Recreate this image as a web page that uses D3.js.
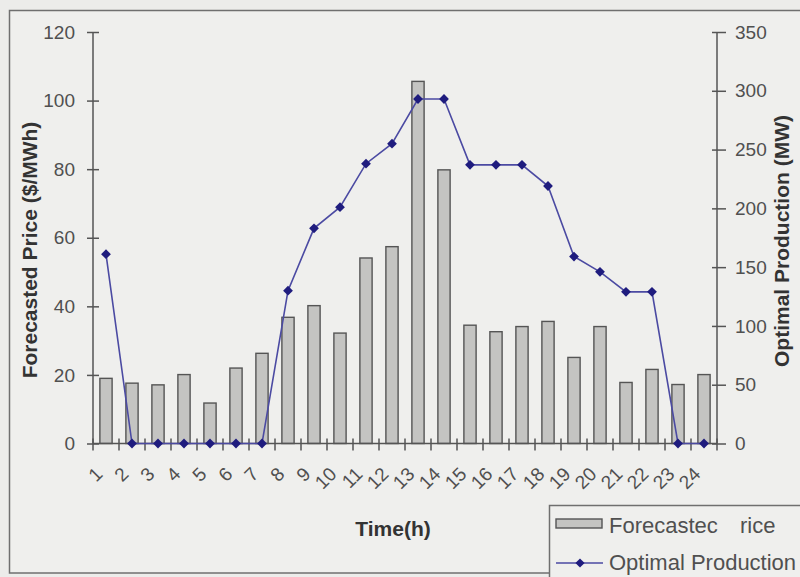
<!DOCTYPE html>
<html>
<head>
<meta charset="utf-8">
<script src="https://cdn.jsdelivr.net/npm/d3@7"></script>
<style>
  html, body { margin: 0; padding: 0; background: #ececea; }
  svg { display: block; }
  text { font-family: "Liberation Sans", Arial, sans-serif; }
</style>
</head>
<body>
<svg id="chart" width="800" height="577"></svg>
<script>
// Hourly forecasted price ($/MWh) and optimal production (MW)
const hours = [1, 2, 3, 4, 5, 6, 7, 8, 9, 10, 11, 12, 13, 14, 15, 16, 17, 18, 19, 20, 21, 22, 23, 24];
const forecastPrice = [19.0, 17.6, 17.1, 20.1, 11.8, 22.0, 26.3, 36.8, 40.2, 32.2, 54.1, 57.4, 105.6, 79.8, 34.5, 32.6, 34.1, 35.6, 25.1, 34.1, 17.8, 21.6, 17.2, 20.1];
const optimalProduction = [161, 0, 0, 0, 0, 0, 0, 130, 183, 201, 238, 255, 293, 293, 237, 237, 237, 219, 159, 146, 129, 129, 0, 0];
const priceTicks = [0, 20, 40, 60, 80, 100, 120];
const productionTicks = [0, 50, 100, 150, 200, 250, 300, 350];

const svg = d3.select("#chart");

// Outer chart frame
svg.append("rect")
  .attr("x", 9.5).attr("y", 10.5)
  .attr("width", 800).attr("height", 562.5)
  .attr("fill", "#efefed").attr("stroke", "#6f6f6f").attr("stroke-width", 1.5);

const plotLeft = 93, plotRight = 717, plotTop = 32, plotBottom = 443.5;

const x = d3.scaleBand().domain(hours).range([plotLeft, plotRight]).paddingInner(0).paddingOuter(0);
const yPrice = d3.scaleLinear().domain([0, 120]).range([plotBottom, plotTop]);
const yProd = d3.scaleLinear().domain([0, 350]).range([plotBottom, plotTop]);

const barW = x.bandwidth() * 0.47;

// Price bars
svg.append("g").selectAll("rect")
  .data(hours)
  .join("rect")
  .attr("x", (h) => x(h) + x.bandwidth() / 2 - barW / 2)
  .attr("y", (h, i) => yPrice(forecastPrice[i]))
  .attr("width", barW)
  .attr("height", (h, i) => plotBottom - yPrice(forecastPrice[i]))
  .attr("fill", "#c4c4c2")
  .attr("stroke", "#555")
  .attr("stroke-width", 1.4);

// Left axis (price)
const axisColor = "#555";
const gL = svg.append("g").attr("transform", `translate(${plotLeft},0)`)
  .call(d3.axisLeft(yPrice).tickValues(priceTicks).tickSize(6).tickPadding(12));
gL.selectAll(".tick line").attr("x2", 6).attr("x1", -6);
// Right axis (production)
const gR = svg.append("g").attr("transform", `translate(${plotRight},0)`)
  .call(d3.axisRight(yProd).tickValues(productionTicks).tickSize(9).tickPadding(9));
gR.selectAll(".tick line").attr("x1", -5).attr("x2", 9);

[gL, gR].forEach((g) => {
  g.select(".domain").attr("stroke", axisColor).attr("stroke-width", 1.5).attr("d", `M0,${plotTop}V${plotBottom}`);
  g.selectAll(".tick line").attr("stroke", axisColor).attr("stroke-width", 1.5);
  g.selectAll(".tick text").attr("fill", "#505050").attr("font-size", 19);
});

// Bottom axis: ticks at band boundaries, rotated hour labels
const gX = svg.append("g");
gX.append("line")
  .attr("x1", plotLeft).attr("x2", plotRight).attr("y1", plotBottom).attr("y2", plotBottom)
  .attr("stroke", axisColor).attr("stroke-width", 1.5);
gX.selectAll("line.tk")
  .data(hours.concat([25]))
  .join("line")
  .attr("class", "tk")
  .attr("x1", (h) => h <= 24 ? x(h) : plotRight)
  .attr("x2", (h) => h <= 24 ? x(h) : plotRight)
  .attr("y1", plotBottom - 5).attr("y2", plotBottom + 7)
  .attr("stroke", axisColor).attr("stroke-width", 1.5);
gX.selectAll("text")
  .data(hours)
  .join("text")
  .attr("transform", (h) => `translate(${x(h) + x.bandwidth() / 2 - 7},${plotBottom + 27}) rotate(-45)`)
  .attr("text-anchor", "end")
  .attr("dy", "0.35em")
  .attr("font-size", 19)
  .attr("fill", "#505050")
  .text((h) => h);

// Production line with diamond markers
const line = d3.line()
  .x((d, i) => x(hours[i]) + x.bandwidth() / 2)
  .y((d) => yProd(d));
svg.append("path")
  .datum(optimalProduction)
  .attr("d", line)
  .attr("fill", "none")
  .attr("stroke", "#4b4aa2")
  .attr("stroke-width", 1.6);
svg.append("g").selectAll("path")
  .data(optimalProduction)
  .join("path")
  .attr("transform", (d, i) => `translate(${x(hours[i]) + x.bandwidth() / 2},${yProd(d)}) rotate(45)`)
  .attr("d", d3.symbol().type(d3.symbolSquare).size(48))
  .attr("fill", "#1f1c7e");

// Axis titles
svg.append("text")
  .attr("transform", `translate(37,250) rotate(-90)`)
  .attr("text-anchor", "middle")
  .attr("font-size", 21).attr("font-weight", "bold").attr("fill", "#333")
  .text("Forecasted Price ($/MWh)");
svg.append("text")
  .attr("transform", `translate(789,241) rotate(-90)`)
  .attr("text-anchor", "middle")
  .attr("font-size", 21).attr("font-weight", "bold").attr("fill", "#333")
  .text("Optimal Production (MW)");
svg.append("text")
  .attr("x", 393).attr("y", 536)
  .attr("text-anchor", "middle")
  .attr("font-size", 21).attr("font-weight", "bold").attr("fill", "#333")
  .text("Time(h)");

// Legend
const lg = svg.append("g");
lg.append("rect")
  .attr("x", 549.5).attr("y", 505.5).attr("width", 260).attr("height", 80)
  .attr("fill", "#efefed").attr("stroke", "#6f6f6f").attr("stroke-width", 1.5);
lg.append("rect")
  .attr("x", 556).attr("y", 519).attr("width", 46).attr("height", 9)
  .attr("fill", "#c4c4c2").attr("stroke", "#555").attr("stroke-width", 1.4);
lg.append("text").attr("x", 609).attr("y", 533).attr("font-size", 22).attr("fill", "#505050").text("Forecastec");
lg.append("text").attr("x", 740).attr("y", 533).attr("font-size", 22).attr("fill", "#505050").text("rice");
lg.append("line")
  .attr("x1", 556).attr("x2", 603).attr("y1", 563).attr("y2", 563)
  .attr("stroke", "#4b4aa2").attr("stroke-width", 1.6);
lg.append("path")
  .attr("transform", "translate(580,563) rotate(45)")
  .attr("d", d3.symbol().type(d3.symbolSquare).size(42))
  .attr("fill", "#1f1c7e");
lg.append("text").attr("x", 609).attr("y", 570).attr("font-size", 22).attr("fill", "#505050").text("Optimal Production");
</script>
</body>
</html>
